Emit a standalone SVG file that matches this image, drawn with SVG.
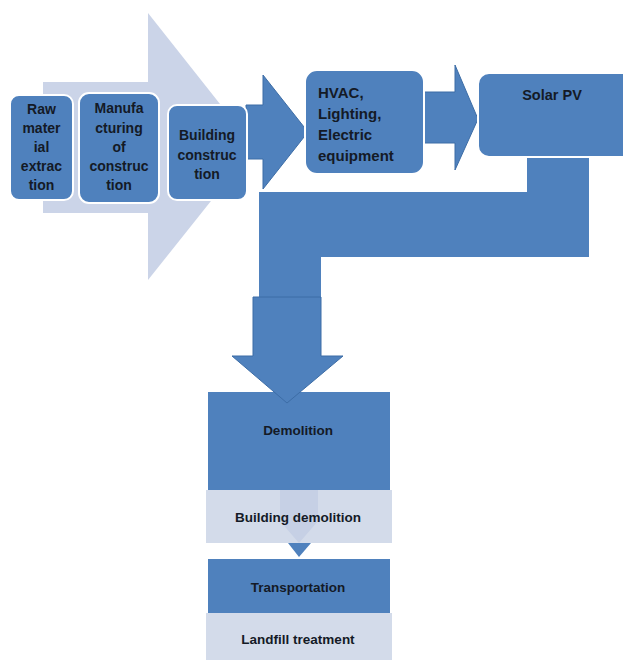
<svg xmlns="http://www.w3.org/2000/svg" width="623" height="660" viewBox="0 0 623 660">
<style>
.bg{fill:#ffffff}
.light{fill:#cbd4e8}
.lightbox{fill:#d3dbea}
.node{fill:#4f81bd;stroke:#ffffff;stroke-width:2}
.dark{fill:#4f81bd}
.arr{fill:#4f81bd;stroke:#3d6da6;stroke-width:1}
.t{font-family:"Liberation Sans",Arial,sans-serif;font-weight:bold;font-size:14px;fill:#141a26;text-anchor:middle}
.tl{text-anchor:start;font-size:15px}
.tb{font-size:13.5px}
</style>
<rect class="bg" x="0" y="0" width="623" height="660"/>
<g id="connectors">
<polygon id="bg-arrow" class="light" points="43,82 148,82 148,13 254,147 148,280 148,213 43,213"/>
<polygon id="arrow-1" class="arr" points="246,105 263,105 263,75 308,132 263,189 263,159 246,159"/>
<polygon id="arrow-2" class="arr" points="422,92 455,92 455,65 478,119 455,170 455,143 422,143"/>
<polygon id="bent-connector" class="dark" points="527,150 589,150 589,257 321,257 321,297 259,297 259,192 527,192"/>
</g>
<g id="raw-material">
<rect class="node" x="10" y="95" width="63" height="105" rx="9"/>
<text class="t" x="41.5" y="114">Raw</text>
<text class="t" x="41.5" y="133">mater</text>
<text class="t" x="41.5" y="152">ial</text>
<text class="t" x="41.5" y="171">extrac</text>
<text class="t" x="41.5" y="190">tion</text>
</g>
<g id="manufacturing">
<rect class="node" x="79" y="93" width="80" height="110" rx="10"/>
<text class="t" x="119" y="113">Manufa</text>
<text class="t" x="119" y="133">cturing</text>
<text class="t" x="119" y="152">of</text>
<text class="t" x="119" y="171">construc</text>
<text class="t" x="119" y="190">tion</text>
</g>
<g id="building-construction">
<rect class="node" x="168" y="105" width="79" height="95" rx="9"/>
<text class="t" x="207" y="140">Building</text>
<text class="t" x="207" y="160">construc</text>
<text class="t" x="207" y="179">tion</text>
</g>
<g id="hvac">
<rect class="node" x="305" y="70" width="119" height="104" rx="12" stroke="none"/>
<text class="t tl" x="318" y="98">HVAC,</text>
<text class="t tl" x="318" y="119">Lighting,</text>
<text class="t tl" x="318" y="140">Electric</text>
<text class="t tl" x="318" y="161">equipment</text>
</g>
<g id="solar-pv">
<rect class="node" x="478" y="73" width="160" height="84" rx="11" stroke="none"/>
<text class="t" x="552" y="100" style="font-size:14.5px">Solar PV</text>
</g>
<g id="demolition">
<rect class="dark" x="208" y="392" width="182" height="98"/>
<text class="t tb" x="298" y="435">Demolition</text>
</g>
<g id="down-arrow">
<polygon class="arr" points="253,297 321,297 321,356 343,356 287,403 232,356 253,356"/>
</g>
<g id="building-demolition">
<rect class="lightbox" x="206" y="490" width="186" height="53"/>
<polygon fill="#c6d0e5" points="280,490 318,490 318,521 299,543 280,521"/>
<text class="t tb" x="298" y="522">Building demolition</text>
</g>
<g id="small-arrow">
<polygon class="dark" points="288,543 311,543 299,557"/>
</g>
<g id="transportation">
<rect class="dark" x="208" y="559" width="182" height="54"/>
<text class="t tb" x="298" y="592">Transportation</text>
</g>
<g id="landfill">
<rect class="lightbox" x="206" y="613" width="186" height="47"/>
<text class="t tb" x="298" y="644">Landfill treatment</text>
</g>
</svg>
